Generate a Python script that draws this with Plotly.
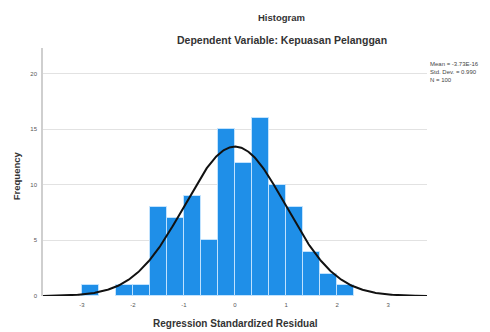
import numpy as np
import plotly.graph_objects as go

# Data
bin_width = 1/3
bin_starts = [-3.0, -2.333, -2.0, -1.667, -1.333, -1.0, -0.667, -0.333, 0.0, 0.333, 0.667, 1.0, 1.333, 1.667, 2.0]
counts = [1, 1, 1, 8, 7, 9, 5, 15, 12, 16, 10, 8, 4, 2, 1]
mean_val = -3.73e-16
std_val = 0.990
n_val = 100
x_ticks = [-3, -2, -1, 0, 1, 2, 3]
y_ticks = [0, 5, 10, 15, 20]

centers = [s + bin_width / 2 for s in bin_starts]

xs = np.linspace(-3.76, 3.76, 400)
ys = n_val * bin_width / (std_val * np.sqrt(2 * np.pi)) * np.exp(-0.5 * ((xs - mean_val) / std_val) ** 2)

fig = go.Figure()
fig.add_trace(go.Bar(
    x=centers, y=counts, width=bin_width,
    marker=dict(color="#1f8fe8", line=dict(color="rgba(200,230,255,0.9)", width=1)),
    showlegend=False,
))
fig.add_trace(go.Scatter(
    x=xs, y=ys, mode="lines", line=dict(color="#111111", width=2), showlegend=False,
))

fig.update_layout(
    width=482, height=324,
    margin=dict(l=35, r=63, t=40, b=36),
    paper_bgcolor="white", plot_bgcolor="white",
    font=dict(family="Liberation Sans, Arial, sans-serif", color="#222"),
    bargap=0,
    xaxis=dict(
        range=[-3.76, 3.76], tickvals=x_ticks, ticktext=[str(v) for v in x_ticks],
        showgrid=False, zeroline=False, showline=False,
        tickfont=dict(size=6, color="#555"), ticks="", ticklabelstandoff=4,
    ),
    yaxis=dict(
        range=[0, 22.3], tickvals=y_ticks, showgrid=True, gridcolor="#e2e2e2", gridwidth=1,
        zeroline=False, showline=True, linecolor="#cfcfcf", linewidth=1.5,
        tickfont=dict(size=6, color="#555"), ticks="", ticklabelstandoff=3,
    ),
    annotations=[
        dict(text="<b>Histogram</b>", x=0.622, y=1.125, xref="paper", yref="paper",
             showarrow=False, font=dict(size=9.5, color="#333"), xanchor="center", yanchor="middle"),
        dict(text="<b>Dependent Variable: Kepuasan Pelanggan</b>", x=0.622, y=1.032, xref="paper", yref="paper",
             showarrow=False, font=dict(size=10.5, color="#333"), xanchor="center", yanchor="middle"),
        dict(text="<b>Regression Standardized Residual</b>", x=0.5, y=-0.109, xref="paper", yref="paper",
             showarrow=False, font=dict(size=10, color="#333"), xanchor="center", yanchor="middle"),
        dict(text="<b>Frequency</b>", x=-0.067, y=0.484, xref="paper", yref="paper", textangle=-90,
             showarrow=False, font=dict(size=9.5, color="#333"), xanchor="center", yanchor="middle"),
        dict(text=f"Mean = {mean_val:.2E}<br>Std. Dev. = {std_val:.3f}<br>N = {n_val}",
             x=1.003, y=0.955, xref="paper", yref="paper", align="left",
             showarrow=False, font=dict(size=6, color="#444"), xanchor="left", yanchor="top"),
    ],
)

fig.write_html("out.html")
